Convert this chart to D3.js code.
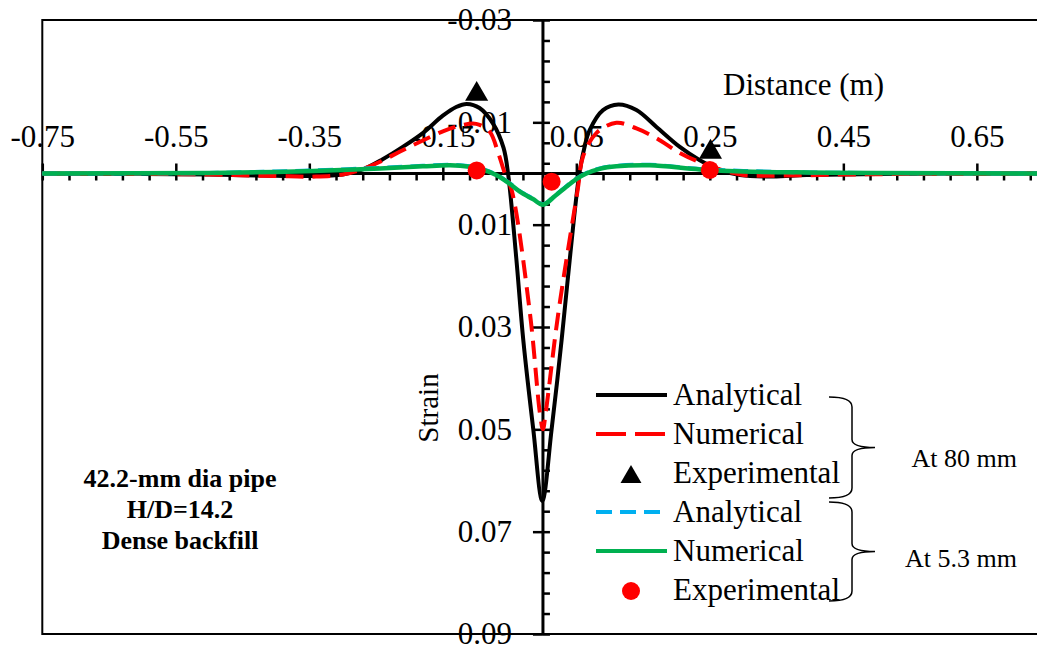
<!DOCTYPE html>
<html>
<head>
<meta charset="utf-8">
<script src="https://cdn.jsdelivr.net/npm/d3@7"></script>
<style>
  html, body { margin: 0; padding: 0; background: #fff; }
  svg { display: block; font-family: "Liberation Serif", "Times New Roman", serif; }
</style>
</head>
<body>
<svg id="chart" width="1037" height="650"></svg>
<script>
// ---------------- data ----------------
const xMajorTicks = [-0.75, -0.55, -0.35, -0.15, 0.05, 0.25, 0.45, 0.65];
const xTickLabels = ["-0.75", "-0.55", "-0.35", "-0.15", "0.05", "0.25", "0.45", "0.65"];
const yMajorTicks = [-0.03, -0.01, 0.01, 0.03, 0.05, 0.07, 0.09];
const yTickLabels = ["-0.03", "-0.01", "0.01", "0.03", "0.05", "0.07", "0.09"];

// Analytical, 80 mm (black solid)
const anaX80 = [-0.75, -0.6, -0.5, -0.42, -0.35, -0.3, -0.27, -0.24, -0.21, -0.18, -0.15, -0.13, -0.114, -0.095, -0.075, -0.059, -0.052, -0.04, -0.0295, -0.0145, -0.001, 0.013, 0.028, 0.04, 0.054, 0.062, 0.07, 0.09, 0.113, 0.14, 0.17, 0.205, 0.235, 0.265, 0.295, 0.345, 0.395, 0.5, 0.6, 0.75];
const anaS80 = [0, 0.0001, 0.0002, 0.0004, 0.0005, 0.0002, -0.0008, -0.0028, -0.0052, -0.0079, -0.0113, -0.0130, -0.0136, -0.0128, -0.0098, -0.0050, 0.0003, 0.0165, 0.0325, 0.0500, 0.0640, 0.0500, 0.0325, 0.0170, 0.0005, -0.0050, -0.0085, -0.0124, -0.0135, -0.0124, -0.0091, -0.0052, -0.0026, -0.0007, 0.0003, 0.0006, 0.0003, 0.0001, 0, 0];

// Numerical, 80 mm (red dashed)
const numX80 = [-0.75, -0.5, -0.4, -0.34, -0.3, -0.274, -0.244, -0.214, -0.184, -0.149, -0.12, -0.1, -0.08, -0.067, -0.057, -0.047, -0.0195, -0.0045, 0, 0.004, 0.023, 0.052, 0.06, 0.08, 0.11, 0.14, 0.17, 0.205, 0.235, 0.27, 0.3, 0.36, 0.45, 0.55, 0.75];
const numS80 = [0, 0.0002, 0.0005, 0.0006, 0.0002, -0.0007, -0.0023, -0.0043, -0.0062, -0.0083, -0.0095, -0.0097, -0.0082, -0.0040, 0, 0.0032, 0.0273, 0.0469, 0.0500, 0.0469, 0.0273, 0.0032, -0.0033, -0.0079, -0.0099, -0.0088, -0.0069, -0.0040, -0.0022, -0.0006, 0.0003, 0.0004, 0.0002, 0.0001, 0];

// Experimental, 80 mm (black triangles)
const expX80 = [-0.0993, 0.251];
const expS80 = [-0.0155, -0.0042];

// Analytical, 5.3 mm (blue short dash)
const anaX5 = [-0.75, -0.5, -0.4, -0.344, -0.244, -0.18, -0.139, -0.11, -0.089, -0.07, -0.05, -0.034, -0.015, 0, 0.018, 0.035, 0.05, 0.065, 0.085, 0.11, 0.16, 0.235, 0.3, 0.4, 0.5, 0.75];
const anaS5 = [0, -0.0001, -0.0004, -0.0006, -0.0011, -0.0015, -0.0017, -0.0014, -0.0008, 0.0002, 0.0019, 0.0035, 0.0049, 0.0060, 0.0043, 0.0025, 0.0010, -0.0001, -0.0010, -0.0015, -0.0017, -0.0009, -0.0005, -0.0002, -0.0001, 0];

// Numerical, 5.3 mm (green solid)
const numX5 = [-0.75, -0.5, -0.4, -0.344, -0.244, -0.18, -0.139, -0.11, -0.089, -0.07, -0.05, -0.034, -0.015, 0, 0.018, 0.035, 0.05, 0.065, 0.085, 0.11, 0.16, 0.235, 0.3, 0.4, 0.5, 0.75];
const numS5 = [0, -0.0001, -0.0003, -0.0005, -0.0010, -0.0014, -0.0016, -0.0013, -0.0007, 0.0003, 0.0020, 0.0036, 0.0050, 0.0061, 0.0044, 0.0026, 0.0011, 0, -0.0009, -0.0014, -0.0016, -0.0008, -0.0004, -0.0002, -0.0001, 0];

// Experimental, 5.3 mm (red circles)
const expX5 = [-0.0993, 0.013, 0.25];
const expS5 = [-0.0006, 0.0016, -0.0007];

const legendLabels = ["Analytical", "Numerical", "Experimental", "Analytical", "Numerical", "Experimental"];
const groupLabels = ["At 80 mm", "At 5.3 mm"];
const noteLines = ["42.2-mm dia pipe", "H/D=14.2", "Dense backfill"];

// ---------------- chart ----------------
const svg = d3.select("#chart");
const x = d3.scaleLinear().domain([-0.75, 0.75]).range([42.3, 1043.6]);
const y = d3.scaleLinear().domain([-0.03, 0.09]).range([20, 634]);
const x0 = x(0), y0 = y(0);

// frame
svg.append("rect")
  .attr("x", x(-0.75)).attr("y", y(-0.03))
  .attr("width", x(0.75) - x(-0.75)).attr("height", y(0.09) - y(-0.03))
  .attr("fill", "none").attr("stroke", "#000").attr("stroke-width", 2);

const xMinor = d3.range(0, 38).map(i => -0.75 + i * 0.04);
const yMinor = d3.range(0, 31).map(i => -0.03 + i * 0.004);

function styleAxis(g) {
  g.select(".domain").remove();
  g.selectAll(".tick line").attr("stroke", "#000").attr("stroke-width", 2.5);
  g.selectAll("text").attr("fill", "#000").attr("font-size", 31)
    .attr("font-family", "'Liberation Serif', 'Times New Roman', serif");
}

// x axis: labels above, major ticks crossing, minor below
svg.append("g").attr("transform", `translate(0,${y0})`)
  .call(d3.axisTop(x).tickValues(xMajorTicks).tickSize(10).tickPadding(17)
    .tickFormat((d, i) => xTickLabels[i]))
  .call(styleAxis);
svg.append("g").attr("transform", `translate(0,${y0})`)
  .call(d3.axisBottom(x).tickValues(xMinor).tickSize(7).tickFormat(""))
  .call(styleAxis);

// y axis: labels left, major ticks crossing, minor right
svg.append("g").attr("transform", `translate(${x0},0)`)
  .call(d3.axisLeft(y).tickValues(yMajorTicks).tickSize(10).tickPadding(21)
    .tickFormat((d, i) => yTickLabels[i]))
  .call(styleAxis);
svg.append("g").attr("transform", `translate(${x0},0)`)
  .call(d3.axisRight(y).tickValues(yMinor).tickSize(7).tickFormat(""))
  .call(styleAxis);

// axis lines
svg.append("line").attr("x1", x(-0.75)).attr("x2", x(0.75)).attr("y1", y0).attr("y2", y0)
  .attr("stroke", "#000").attr("stroke-width", 3);
svg.append("line").attr("x1", x0).attr("x2", x0).attr("y1", y(-0.03)).attr("y2", y(0.09))
  .attr("stroke", "#000").attr("stroke-width", 3);

// axis titles
svg.append("text").attr("x", 723).attr("y", 95).attr("font-size", 31).text("Distance (m)");
svg.append("text").attr("transform", "translate(438,408) rotate(-90)")
  .attr("text-anchor", "middle").attr("font-size", 29).text("Strain");

// annotation
svg.append("g").selectAll("text").data(noteLines).join("text")
  .attr("x", 180).attr("y", (d, i) => 487 + i * 31)
  .attr("text-anchor", "middle").attr("font-size", 26).attr("font-weight", "bold")
  .text(d => d);

// curves
const line = d3.line().x(d => x(d[0])).y(d => y(d[1])).curve(d3.curveCatmullRom.alpha(0.5));
const zip = (a, b) => a.map((v, i) => [v, b[i]]);

svg.append("path").datum(zip(anaX80, anaS80)).attr("d", line)
  .attr("fill", "none").attr("stroke", "#000").attr("stroke-width", 4).attr("stroke-linejoin", "miter");
svg.append("path").datum(zip(numX80, numS80)).attr("d", line)
  .attr("fill", "none").attr("stroke", "#ff0000").attr("stroke-width", 4)
  .attr("stroke-dasharray", "18,9");
const triangle = d3.symbol().type(d3.symbolTriangle).size(230);
svg.append("g").selectAll("path").data(zip(expX80, expS80)).join("path")
  .attr("transform", d => `translate(${x(d[0])},${y(d[1])})`)
  .attr("d", triangle).attr("fill", "#000");
svg.append("path").datum(zip(anaX5, anaS5)).attr("d", line)
  .attr("fill", "none").attr("stroke", "#00b0f0").attr("stroke-width", 4)
  .attr("stroke-dasharray", "15,8");
svg.append("path").datum(zip(numX5, numS5)).attr("d", line)
  .attr("fill", "none").attr("stroke", "#00b050").attr("stroke-width", 4.5);
svg.append("g").selectAll("circle").data(zip(expX5, expS5)).join("circle")
  .attr("cx", d => x(d[0])).attr("cy", d => y(d[1])).attr("r", 9).attr("fill", "#ff0000");

// legend
const lg = svg.append("g");
const rowY = i => 395 + i * 39;
const l0 = 596, l1 = 667, tx = 673;
lg.append("line").attr("x1", l0).attr("x2", l1).attr("y1", rowY(0)).attr("y2", rowY(0))
  .attr("stroke", "#000").attr("stroke-width", 4);
lg.append("line").attr("x1", l0).attr("x2", l1).attr("y1", rowY(1)).attr("y2", rowY(1))
  .attr("stroke", "#ff0000").attr("stroke-width", 4).attr("stroke-dasharray", "30,9");
lg.append("path").attr("transform", `translate(631,${rowY(2) + 4})`)
  .attr("d", d3.symbol().type(d3.symbolTriangle).size(190)).attr("fill", "#000");
lg.append("line").attr("x1", l0).attr("x2", l1).attr("y1", rowY(3)).attr("y2", rowY(3))
  .attr("stroke", "#00b0f0").attr("stroke-width", 4).attr("stroke-dasharray", "16,8");
lg.append("line").attr("x1", l0).attr("x2", l1).attr("y1", rowY(4)).attr("y2", rowY(4))
  .attr("stroke", "#00b050").attr("stroke-width", 4);
lg.append("circle").attr("cx", 631).attr("cy", rowY(5) + 1).attr("r", 9).attr("fill", "#ff0000");
lg.selectAll("text").data(legendLabels).join("text")
  .attr("x", tx).attr("y", (d, i) => rowY(i) + 10).attr("font-size", 31).text(d => d);

// braces
function brace(top, bottom) {
  const mid = (top + bottom) / 2;
  const xl = 829, xv = 852, xt = 875;
  return `M${xl},${top} Q${xv},${top} ${xv},${top + 10} L${xv},${mid - 8} Q${xv},${mid} ${xt},${mid}` +
         ` Q${xv},${mid} ${xv},${mid + 8} L${xv},${bottom - 10} Q${xv},${bottom} ${xl},${bottom}`;
}
svg.append("path").attr("d", brace(397, 498)).attr("fill", "none").attr("stroke", "#000").attr("stroke-width", 1.5);
svg.append("path").attr("d", brace(502, 601)).attr("fill", "none").attr("stroke", "#000").attr("stroke-width", 1.5);
svg.append("g").selectAll("text").data(groupLabels).join("text")
  .attr("x", 1017).attr("y", (d, i) => [467, 567][i])
  .attr("text-anchor", "end").attr("font-size", 26).text(d => d);
</script>
</body>
</html>
